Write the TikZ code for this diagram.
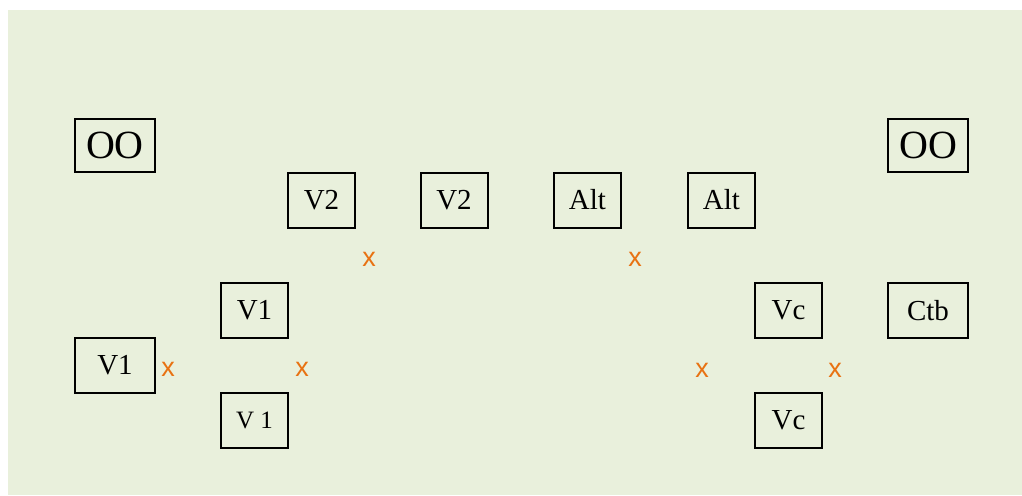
\documentclass[tikz,border=0pt]{standalone}
\usepackage{fontspec}
\setmainfont{Liberation Serif}
\newfontfamily\marksans{Liberation Sans}
\definecolor{bgc}{RGB}{233,240,220}
\definecolor{markc}{RGB}{232,114,18}
\tikzset{
  box/.style={draw=black, line width=2pt, inner sep=0pt, minimum width=67pt, minimum height=55pt, font=\fontsize{29}{32}\selectfont},
  widebox/.style={box, minimum width=80pt},
  bigbox/.style={widebox, minimum height=53pt, font=\fontsize{40}{44}\selectfont},
  smallbox/.style={box, font=\fontsize{25}{28}\selectfont},
  xmark/.style={inner sep=0pt, text=markc, font=\marksans\fontsize{27}{29}\selectfont}
}
\begin{document}
\begin{tikzpicture}[x=1pt,y=-1pt]
\useasboundingbox (0,0) rectangle (1022,495);
\fill[bgc] (8,10) rectangle (1022,495);
\node[bigbox] (ooL) at (115,145.5) {OO};
\node[bigbox] (ooR) at (928,145.5) {OO};
\node[box] (v2a) at (321.5,200) {V2};
\node[box] (v2b) at (454,200) {V2};
\node[box] (alta) at (587.5,200) {Alt};
\node[box] (altb) at (721.5,200) {Alt};
\node[box] (v1u) at (254.5,310.5) {V1};
\node[widebox] (v1L) at (115,365) {V1};
\node[smallbox] (v1d) at (254.5,420) {V 1};
\node[box] (vcu) at (788.5,310.5) {Vc};
\node[widebox] (ctb) at (928,310.5) {Ctb};
\node[box] (vcd) at (788.5,420.5) {Vc};
\node[xmark] (x1) at (369,259) {x};
\node[xmark] (x2) at (635,259) {x};
\node[xmark] (x3) at (168,369) {x};
\node[xmark] (x4) at (302,369) {x};
\node[xmark] (x5) at (702,370) {x};
\node[xmark] (x6) at (835,370) {x};
\end{tikzpicture}
\end{document}
